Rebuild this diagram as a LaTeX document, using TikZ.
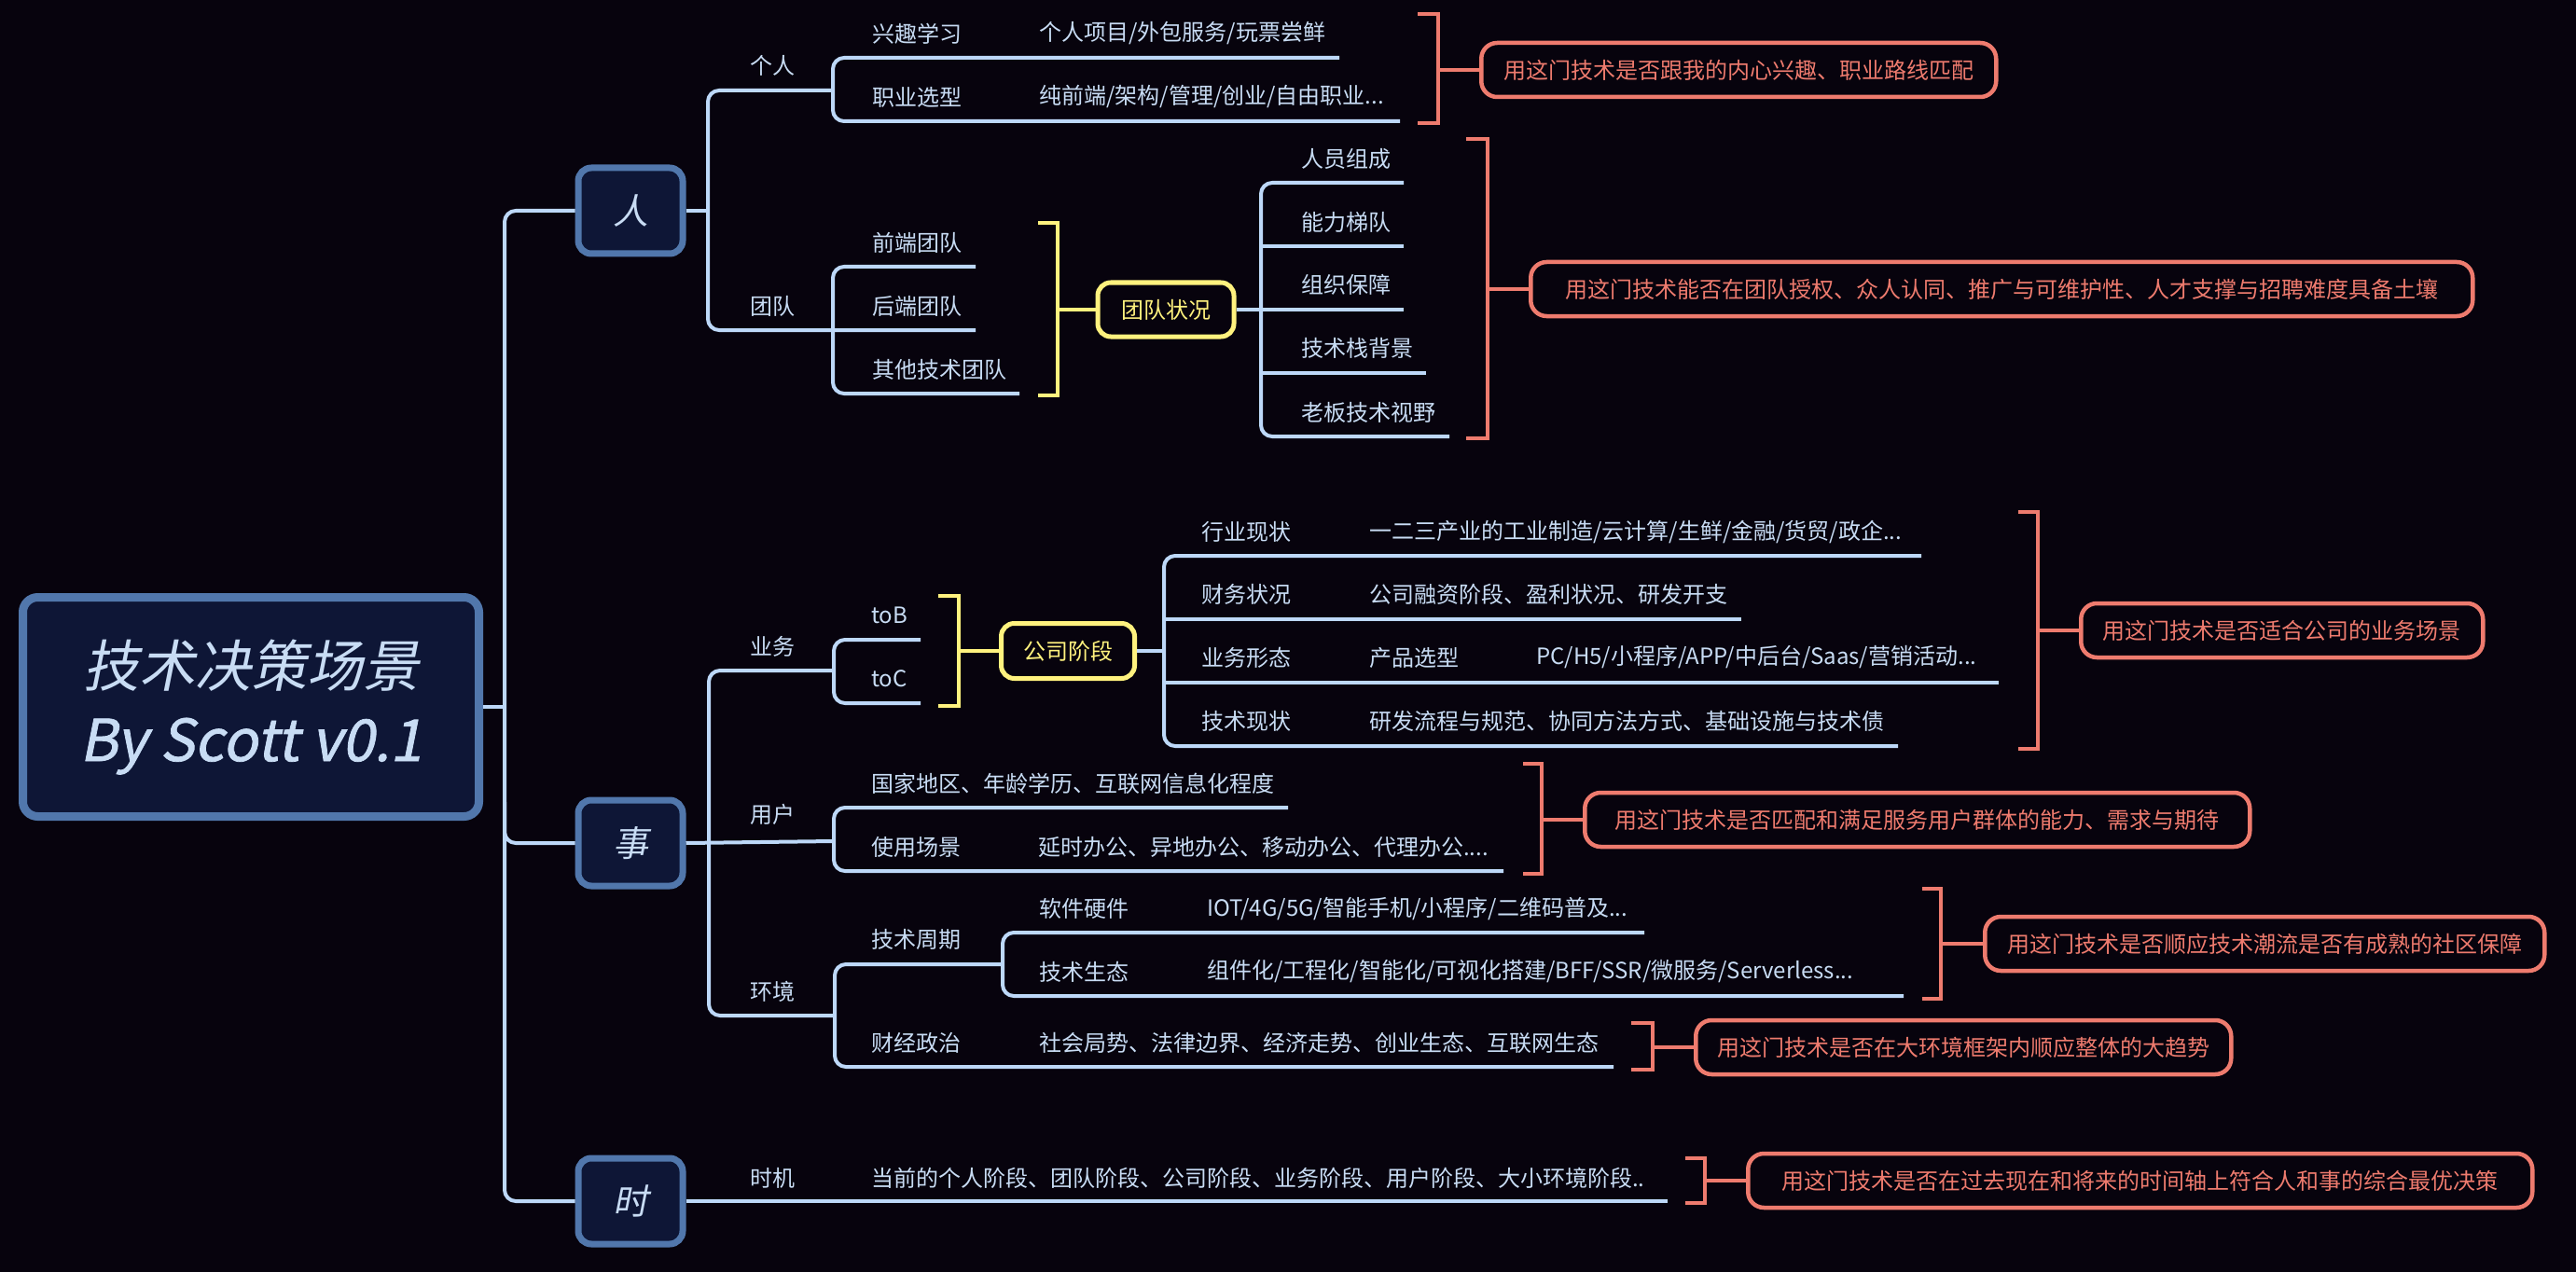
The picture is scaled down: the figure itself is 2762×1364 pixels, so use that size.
\documentclass[tikz,border=0pt]{standalone}
\usepackage{fontspec}
\setmainfont{Noto Sans CJK SC}
\newfontfamily\slantfont[FakeSlant=0.2]{Noto Sans CJK SC}
\newfontfamily\slantheavy[FakeSlant=0.2,FakeBold=1.2]{Noto Sans CJK SC}
\definecolor{bgc}{HTML}{07030D}
\definecolor{inkc}{HTML}{C8DCF4}
\definecolor{wirec}{HTML}{BDD8F8}
\definecolor{edgec}{HTML}{5177AC}
\definecolor{fillc}{HTML}{0E1636}
\definecolor{goldc}{HTML}{FFF27E}
\definecolor{salmonc}{HTML}{EE7B6E}
\tikzset{
  wire/.style={draw=wirec, line width=4pt, rounded corners=12pt},
  txt/.style={anchor=west, inner sep=0pt, text=inkc, font=\fontsize{24}{24}\selectfont},
  topic/.style={draw=edgec, fill=fillc, line width=7pt, rounded corners=14pt, text=inkc,
    minimum width=112pt, minimum height=92pt, font=\slantfont\fontsize{38}{38}\selectfont},
  summary/.style={draw=goldc, line width=5pt, rounded corners=14pt, text=goldc, inner sep=0pt,
    font=\fontsize{24}{24}\selectfont},
  note/.style={draw=salmonc, line width=4.5pt, rounded corners=17pt, text=salmonc, inner sep=0pt,
    anchor=west, minimum height=58pt, font=\fontsize{24}{24}\selectfont},
  brace/.style={draw=salmonc, line width=4pt},
  ybrace/.style={draw=goldc, line width=4pt}
}
\begin{document}
\begin{tikzpicture}[x=1pt,y=-1pt]
  \fill[bgc] (0,0) rectangle (2762,1364);

  \node[draw=edgec, fill=fillc, line width=9pt, rounded corners=16pt, minimum width=489pt,
    minimum height=235pt, align=center, text=inkc, font=\slantfont\fontsize{60}{80}\selectfont]
    (root) at (269,758) {技术决策场景\\{\slantheavy\fontsize{62}{80}\selectfont By Scott v0.1}};
  \node[topic] (ren) at (676,226) {人};
  \node[topic] (shi) at (676,904) {事};
  \node[topic] (shijian) at (676,1288) {时};

  \draw[wire] (root.east) -- (541,758);
  \draw[wire] (ren.west) -- (541,226) -- (541,1288) -- (shijian.west);
  \draw[wire] (541,860) -- (541,904) -- (shi.west);

  \node[txt] (geren) at (804,70) {个人};
  \node[txt] (xqxx) at (935,36) {兴趣学习};
  \node[txt] (xqxx2) at (1114,36) {个人项目/外包服务/玩票尝鲜};
  \node[txt] (zyxx) at (935,104) {职业选型};
  \node[txt] (zyxx2) at (1114,104) {纯前端/架构/管理/创业/自由职业...};
  \node[txt] (tuandui) at (804,328) {团队};
  \node[txt] (qdtd) at (935,260) {前端团队};
  \node[txt] (hdtd) at (935,328) {后端团队};
  \node[txt] (qttd) at (935,396) {其他技术团队};
  \node[summary, minimum width=146pt, minimum height=58pt] (tdzk) at (1250,332) {团队状况};
  \node[txt] (rygc) at (1395,170) {人员组成};
  \node[txt] (nltd) at (1395,238) {能力梯队};
  \node[txt] (zzbz) at (1395,305) {组织保障};
  \node[txt] (jszbj) at (1395,373) {技术栈背景};
  \node[txt] (lbjssy) at (1395,442) {老板技术视野};

  \draw[wire] (ren.east) -- (759,226);
  \draw[wire] (893,97) -- (759,97) -- (759,354) -- (1046,354);
  \draw[wire] (1436,62) -- (893,62) -- (893,130) -- (1501,130);
  \draw[wire] (1046,286) -- (893,286) -- (893,422) -- (1093,422);
  \draw[wire] (tdzk.east) -- (1505,332);
  \draw[wire] (1505,196) -- (1352,196) -- (1352,468) -- (1554,468);
  \draw[wire] (1352,264) -- (1505,264) (1352,400) -- (1529,400);

  \node[txt] (yewu) at (804,693) {业务};
  \node[txt] (tob) at (934,660) {toB};
  \node[txt] (toc) at (934,728) {toC};
  \node[summary, minimum width=143pt, minimum height=59pt] (gsjd) at (1145,698) {公司阶段};
  \node[txt] (hyxz) at (1288,570) {行业现状};
  \node[txt] (hyxz2) at (1468,570) {一二三产业的工业制造/云计算/生鲜/金融/货贸/政企...};
  \node[txt] (cwzk) at (1288,637) {财务状况};
  \node[txt] (cwzk2) at (1468,637) {公司融资阶段、盈利状况、研发开支};
  \node[txt] (ywxt) at (1288,705) {业务形态};
  \node[txt] (cpxx) at (1468,705) {产品选型};
  \node[txt] (cpxx2) at (1647,705) {PC/H5/小程序/APP/中后台/Saas/营销活动...};
  \node[txt] (jsxz) at (1288,773) {技术现状};
  \node[txt] (jsxz2) at (1468,773) {研发流程与规范、协同方法方式、基础设施与技术债};
  \node[txt] (yonghu) at (804,873) {用户};
  \node[txt] (gjdq) at (934,840) {国家地区、年龄学历、互联网信息化程度};
  \node[txt] (sycj) at (934,908) {使用场景};
  \node[txt] (sycj2) at (1113,908) {延时办公、异地办公、移动办公、代理办公....};
  \node[txt] (huanjing) at (804,1063) {环境};
  \node[txt] (jszq) at (934,1007) {技术周期};
  \node[txt] (rjyj) at (1114,974) {软件硬件};
  \node[txt] (rjyj2) at (1294,974) {IOT/4G/5G/智能手机/小程序/二维码普及...};
  \node[txt] (jsst) at (1114,1042) {技术生态};
  \node[txt] (jsst2) at (1294,1042) {组件化/工程化/智能化/可视化搭建/BFF/SSR/微服务/Serverless...};
  \node[txt] (cjzz) at (934,1118) {财经政治};
  \node[txt] (cjzz2) at (1114,1118) {社会局势、法律边界、经济走势、创业生态、互联网生态};

  \draw[wire] (shi.east) -- (894,902);
  \draw[wire] (894,719) -- (760,719) -- (760,1089) -- (895,1089);
  \draw[wire] (987,686) -- (894,686) -- (894,754) -- (987,754);
  \draw[wire] (gsjd.east) -- (1248,698);
  \draw[wire] (2060,596) -- (1248,596) -- (1248,800) -- (2035,800);
  \draw[wire] (1248,664) -- (1867,664) (1248,732) -- (2143,732);
  \draw[wire] (1381,866) -- (894,866) -- (894,934) -- (1612,934);
  \draw[wire] (1075,1034) -- (895,1034) -- (895,1144) -- (1730,1144);
  \draw[wire] (1763,1000) -- (1075,1000) -- (1075,1068) -- (2041,1068);

  \node[txt] (shiji) at (804,1263) {时机};
  \node[txt] (shiji2) at (934,1263) {当前的个人阶段、团队阶段、公司阶段、业务阶段、用户阶段、大小环境阶段..};
  \draw[wire] (shijian.east) -- (1788,1288);

  \node[note, minimum width=552pt] (n1) at (1586,75) {用这门技术是否跟我的内心兴趣、职业路线匹配};
  \node[note, minimum width=1010pt] (n2) at (1639,310) {用这门技术能否在团队授权、众人认同、推广与可维护性、人才支撑与招聘难度具备土壤};
  \node[note, minimum width=431pt] (n3) at (2229,676) {用这门技术是否适合公司的业务场景};
  \node[note, minimum width=713pt] (n4) at (1697,879) {用这门技术是否匹配和满足服务用户群体的能力、需求与期待};
  \node[note, minimum width=600pt] (n5) at (2126,1012) {用这门技术是否顺应技术潮流是否有成熟的社区保障};
  \node[note, minimum width=574pt] (n6) at (1816,1123) {用这门技术是否在大环境框架内顺应整体的大趋势};
  \node[note, minimum width=841pt] (n7) at (1872,1266) {用这门技术是否在过去现在和将来的时间轴上符合人和事的综合最优决策};

  \foreach \xa/\xb/\ya/\yb/\ym/\nm in {1520/1542/15/132/75/n1, 1572/1595/149/470/310/n2,
      2164/2185/549/803/676/n3, 1633/1653/819/937/879/n4, 2061/2081/953/1071/1012/n5,
      1749/1772/1097/1147/1123/n6, 1807/1828/1242/1290/1266/n7} {
    \draw[brace] (\xa,\ya) -- (\xb,\ya) -- (\xb,\yb) -- (\xa,\yb) (\xb,\ym) -- (\nm.west);
  }
  \foreach \xa/\xb/\ya/\yb/\ym/\nm in {1113/1134/239/424/332/tdzk, 1006/1028/639/757/698/gsjd} {
    \draw[ybrace] (\xa,\ya) -- (\xb,\ya) -- (\xb,\yb) -- (\xa,\yb) (\xb,\ym) -- (\nm.west);
  }
\end{tikzpicture}
\end{document}
